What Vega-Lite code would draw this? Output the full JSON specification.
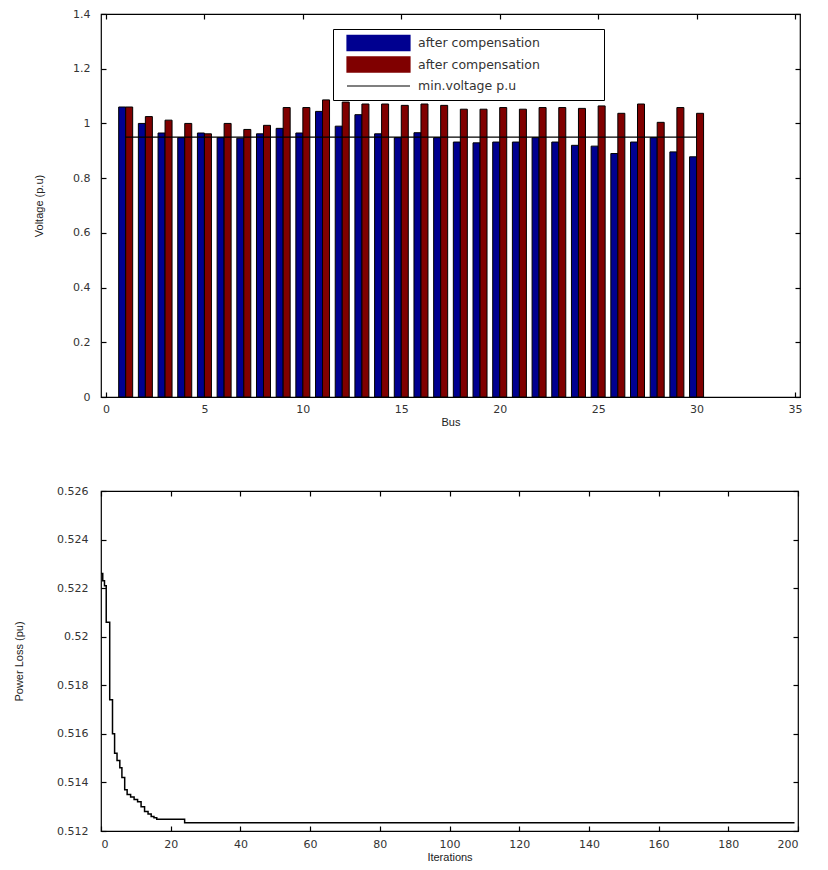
{
  "$schema": "https://vega.github.io/schema/vega-lite/v6.json",
  "background": "white",
  "padding": {"left": 12, "top": 7, "right": 5, "bottom": 5},
  "spacing": 56,
  "config": {
    "view": {"stroke": "black", "strokeWidth": 1.2},
    "font": "Liberation Sans",
    "axis": {
      "domain": false,
      "grid": false,
      "tickColor": "black",
      "tickWidth": 1.2,
      "tickSize": -5,
      "labelFontSize": 11,
      "labelColor": "#333",
      "labelFont": "DejaVu Sans",
      "titleFontSize": 11,
      "titleFontWeight": "normal",
      "titleColor": "#222",
      "titleFont": "Liberation Sans"
    }
  },
  "vconcat": [
    {
      "width": 699,
      "height": 383,
      "data": {
        "values": [
          {"bus": 1, "blue": 1.06, "red": 1.06, "minv": 0.95},
          {"bus": 2, "blue": 1.0, "red": 1.025, "minv": 0.95},
          {"bus": 3, "blue": 0.965, "red": 1.012, "minv": 0.95},
          {"bus": 4, "blue": 0.948, "red": 1.0, "minv": 0.95},
          {"bus": 5, "blue": 0.965, "red": 0.962, "minv": 0.95},
          {"bus": 6, "blue": 0.948, "red": 1.0, "minv": 0.95},
          {"bus": 7, "blue": 0.946, "red": 0.978, "minv": 0.95},
          {"bus": 8, "blue": 0.962, "red": 0.993, "minv": 0.95},
          {"bus": 9, "blue": 0.982, "red": 1.058, "minv": 0.95},
          {"bus": 10, "blue": 0.965, "red": 1.058, "minv": 0.95},
          {"bus": 11, "blue": 1.044, "red": 1.086, "minv": 0.95},
          {"bus": 12, "blue": 0.99, "red": 1.078, "minv": 0.95},
          {"bus": 13, "blue": 1.032, "red": 1.071, "minv": 0.95},
          {"bus": 14, "blue": 0.962, "red": 1.071, "minv": 0.95},
          {"bus": 15, "blue": 0.948, "red": 1.066, "minv": 0.95},
          {"bus": 16, "blue": 0.966, "red": 1.071, "minv": 0.95},
          {"bus": 17, "blue": 0.948, "red": 1.066, "minv": 0.95},
          {"bus": 18, "blue": 0.932, "red": 1.052, "minv": 0.95},
          {"bus": 19, "blue": 0.929, "red": 1.052, "minv": 0.95},
          {"bus": 20, "blue": 0.932, "red": 1.058, "minv": 0.95},
          {"bus": 21, "blue": 0.932, "red": 1.052, "minv": 0.95},
          {"bus": 22, "blue": 0.948, "red": 1.058, "minv": 0.95},
          {"bus": 23, "blue": 0.932, "red": 1.058, "minv": 0.95},
          {"bus": 24, "blue": 0.92, "red": 1.055, "minv": 0.95},
          {"bus": 25, "blue": 0.917, "red": 1.064, "minv": 0.95},
          {"bus": 26, "blue": 0.89, "red": 1.037, "minv": 0.95},
          {"bus": 27, "blue": 0.932, "red": 1.071, "minv": 0.95},
          {"bus": 28, "blue": 0.948, "red": 1.004, "minv": 0.95},
          {"bus": 29, "blue": 0.896, "red": 1.058, "minv": 0.95},
          {"bus": 30, "blue": 0.878, "red": 1.037, "minv": 0.95}
        ]
      },
      "layer": [
        {
          "mark": {"type": "bar", "width": 7, "xOffset": -3.5, "stroke": "black", "strokeWidth": 1},
          "encoding": {
            "x": {
              "field": "bus", "type": "quantitative",
              "scale": {"domain": [0, 35], "nice": false, "zero": false},
              "axis": {"orient": "bottom", "values": [0, 5, 10, 15, 20, 25, 30, 35], "title": "Bus", "titlePadding": 2, "labelPadding": 11}
            },
            "y": {
              "field": "blue", "type": "quantitative",
              "scale": {"domain": [0, 1.4], "nice": false},
              "axis": {"orient": "left", "values": [0, 0.2, 0.4, 0.6, 0.8, 1, 1.2, 1.4], "format": "~g", "title": "Voltage (p.u)", "titlePadding": 28, "labelPadding": 16}
            },
            "color": {
              "datum": "blue",
              "scale": {"domain": ["blue", "red", "minv"], "range": ["#000090", "#800000", "black"]},
              "legend": {
                "orient": "none",
                "legendX": 232,
                "legendY": 15,
                "title": null,
                "direction": "vertical",
                "padding": 4,
                "strokeColor": "black",
                "fillColor": "white",
                "symbolSize": 3969,
                "symbolType": {"expr": "datum.value == 'minv' ? 'M-1,0H1' : 'M-1,-0.24H1V0.24H-1Z'"},
                "symbolStrokeColor": "black",
                "symbolStrokeWidth": 1.2,
                "symbolOpacity": 1,
                "clipHeight": 20,
                "rowPadding": 1.5,
                "symbolOffset": 9,
                "labelOffset": 7,
                "labelLimit": 400,
                "labelFont": "DejaVu Sans",
                "labelFontSize": 12.5,
                "labelColor": "#333",
                "labelExpr": "datum.value == 'minv' ? 'min.voltage p.u' : 'after compensation\u00a0\u00a0\u00a0\u00a0\u00a0\u00a0\u00a0\u00a0\u00a0\u00a0\u00a0\u00a0\u00a0\u00a0\u00a0\u200b'"
              }
            }
          }
        },
        {
          "mark": {"type": "bar", "width": 7, "xOffset": 3.5, "stroke": "black", "strokeWidth": 1},
          "encoding": {
            "x": {
              "field": "bus", "type": "quantitative",
              "axis": {"orient": "top", "values": [0, 5, 10, 15, 20, 25, 30, 35], "labels": false, "title": null}
            },
            "y": {
              "field": "red", "type": "quantitative",
              "axis": {"orient": "right", "values": [0, 0.2, 0.4, 0.6, 0.8, 1, 1.2, 1.4], "labels": false, "title": null}
            },
            "color": {"datum": "red"}
          }
        },
        {
          "mark": {"type": "line", "strokeWidth": 1.2},
          "encoding": {
            "x": {"field": "bus", "type": "quantitative", "axis": null},
            "y": {"field": "minv", "type": "quantitative", "axis": null},
            "color": {"datum": "minv"}
          }
        }
      ],
      "resolve": {"axis": {"x": "independent", "y": "independent"}}
    },
    {
      "width": 697,
      "height": 340,
      "data": {
        "values": [
          {"iter": 0, "loss": 0.5226},
          {"iter": 0.5, "loss": 0.5223},
          {"iter": 1, "loss": 0.5221},
          {"iter": 1.5, "loss": 0.5206},
          {"iter": 2.5, "loss": 0.5174},
          {"iter": 3.3, "loss": 0.516},
          {"iter": 3.9, "loss": 0.5152},
          {"iter": 4.6, "loss": 0.5149},
          {"iter": 5.4, "loss": 0.5146},
          {"iter": 6, "loss": 0.5142},
          {"iter": 6.8, "loss": 0.5137},
          {"iter": 7.5, "loss": 0.5135},
          {"iter": 8.5, "loss": 0.5134},
          {"iter": 9.5, "loss": 0.5133},
          {"iter": 10.5, "loss": 0.5132},
          {"iter": 11.5, "loss": 0.513},
          {"iter": 12.5, "loss": 0.5128},
          {"iter": 13.5, "loss": 0.5127},
          {"iter": 14.4, "loss": 0.5126},
          {"iter": 15.2, "loss": 0.51255},
          {"iter": 16, "loss": 0.51248},
          {"iter": 24, "loss": 0.51234},
          {"iter": 199, "loss": 0.51234}
        ]
      },
      "layer": [
        {
          "mark": {"type": "line", "interpolate": "step-after", "color": "black", "strokeWidth": 1.5},
          "encoding": {
            "x": {
              "field": "iter", "type": "quantitative",
              "scale": {"domain": [0, 200], "nice": false},
              "axis": {"orient": "bottom", "values": [0, 20, 40, 60, 80, 100, 120, 140, 160, 180, 200], "title": "Iterations", "titlePadding": 2, "labelPadding": 12}
            },
            "y": {
              "field": "loss", "type": "quantitative",
              "scale": {"domain": [0.512, 0.526], "nice": false, "zero": false},
              "axis": {"orient": "left", "values": [0.512, 0.514, 0.516, 0.518, 0.52, 0.522, 0.524, 0.526], "format": "~g", "title": "Power Loss (pu)", "titlePadding": 32, "labelPadding": 18}
            }
          }
        },
        {
          "mark": {"type": "line", "opacity": 0},
          "encoding": {
            "x": {
              "field": "iter", "type": "quantitative",
              "axis": {"orient": "top", "values": [0, 20, 40, 60, 80, 100, 120, 140, 160, 180, 200], "labels": false, "title": null}
            },
            "y": {
              "field": "loss", "type": "quantitative",
              "axis": {"orient": "right", "values": [0.512, 0.514, 0.516, 0.518, 0.52, 0.522, 0.524, 0.526], "labels": false, "title": null}
            }
          }
        }
      ],
      "resolve": {"axis": {"x": "independent", "y": "independent"}}
    }
  ]
}
